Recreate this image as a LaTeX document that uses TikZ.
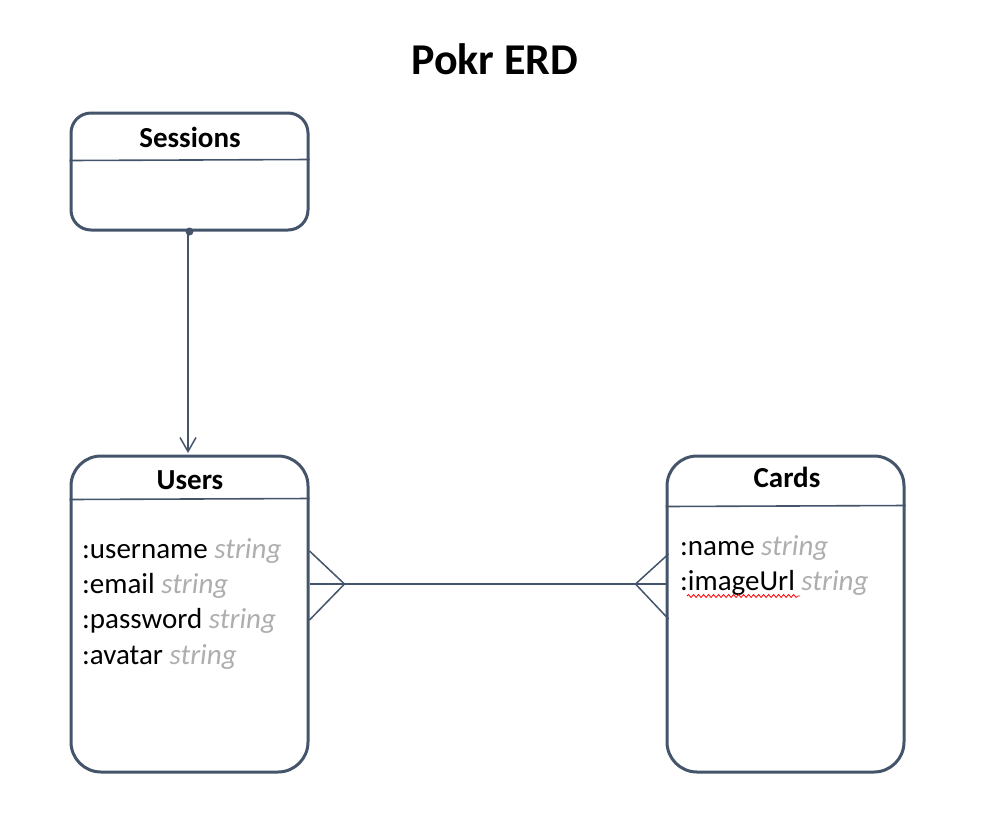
\documentclass[tikz,border=0pt]{standalone}
\usepackage{fontspec}
\setmainfont{Carlito}
\usetikzlibrary{arrows.meta,decorations.pathmorphing}
\definecolor{edge}{HTML}{44546A}
\definecolor{typegray}{HTML}{B0ADAD}
\tikzset{
  entity/.style={draw=edge, line width=3pt, minimum width=237pt, inner sep=0pt},
  divider/.style={draw=edge, line width=1.6pt},
  conn/.style={draw=edge, line width=1.5pt},
  header/.style={font=\fontsize{29}{34}\selectfont\bfseries, anchor=base, inner sep=0pt},
  attr/.style={font=\fontsize{29}{34}\selectfont, anchor=base west, inner sep=0pt},
}
\newcommand{\typ}[1]{{\itshape\color{typegray}#1}}
\begin{document}
\begin{tikzpicture}[x=1pt,y=-1pt]
\useasboundingbox (0,0) rectangle (990,820);
\node[font=\fontsize{44}{50}\selectfont\bfseries, anchor=base, inner sep=0pt] (title) at (495,74) {Pokr ERD};

\node[entity, rounded corners=20pt, minimum height=117pt] (s) at (189.5,171.5) {};
\node[entity, rounded corners=30pt, minimum height=316pt] (u) at (189.5,614) {};
\node[entity, rounded corners=30pt, minimum height=316pt] (c) at (785.5,614) {};

\draw[divider] ([yshift=-49pt]s.north west) -- ([yshift=-48pt]s.north east);
\draw[divider] ([yshift=-45pt]u.north west) -- ([yshift=-44pt]u.north east);
\draw[divider] ([yshift=-52pt]c.north west) -- ([yshift=-51pt]c.north east);

\node[header] (sh) at (190,147) {Sessions};
\node[header] (uh) at (190,489) {Users};
\node[header] (ch) at (787,487) {Cards};

\node[attr] (u1) at (82,558) {:username \typ{string}};
\node[attr] (u2) at (82,593) {:email \typ{string}};
\node[attr] (u3) at (82,628) {:password \typ{string}};
\node[attr] (u4) at (82,664) {:avatar \typ{string}};
\node[attr] (c1) at (680,555) {:name \typ{string}};
\node[attr] (c2) at (680,590) {:imageUrl \typ{string}};

\draw[red, line width=0.8pt, decorate, decoration={snake, amplitude=1.5pt, segment length=5pt}] (687,596) -- (800,596);

% Sessions -> Users
\fill[edge] (s.south) circle (4pt);
\draw[conn, -{Straight Barb[length=14pt,width=16pt,line width=1.5pt]}] ([xshift=-1.5pt]s.south) -- ([xshift=-1.5pt,yshift=1.5pt]u.north);

% Users >--< Cards
\coordinate (ua) at ([yshift=30pt]u.east);
\coordinate (ca) at ([yshift=30pt]c.west);
\coordinate (uf) at ([xshift=35pt]ua);
\coordinate (cf) at ([xshift=-30pt]ca);
\draw[conn] (ua) -- (ca);
\draw[conn] ([yshift=33pt]ua) -- (uf) -- ([yshift=-36pt]ua);
\draw[conn] ([xshift=3pt,yshift=30pt]ca) -- (cf) -- ([xshift=3pt,yshift=-35pt]ca);
\end{tikzpicture}
\end{document}
